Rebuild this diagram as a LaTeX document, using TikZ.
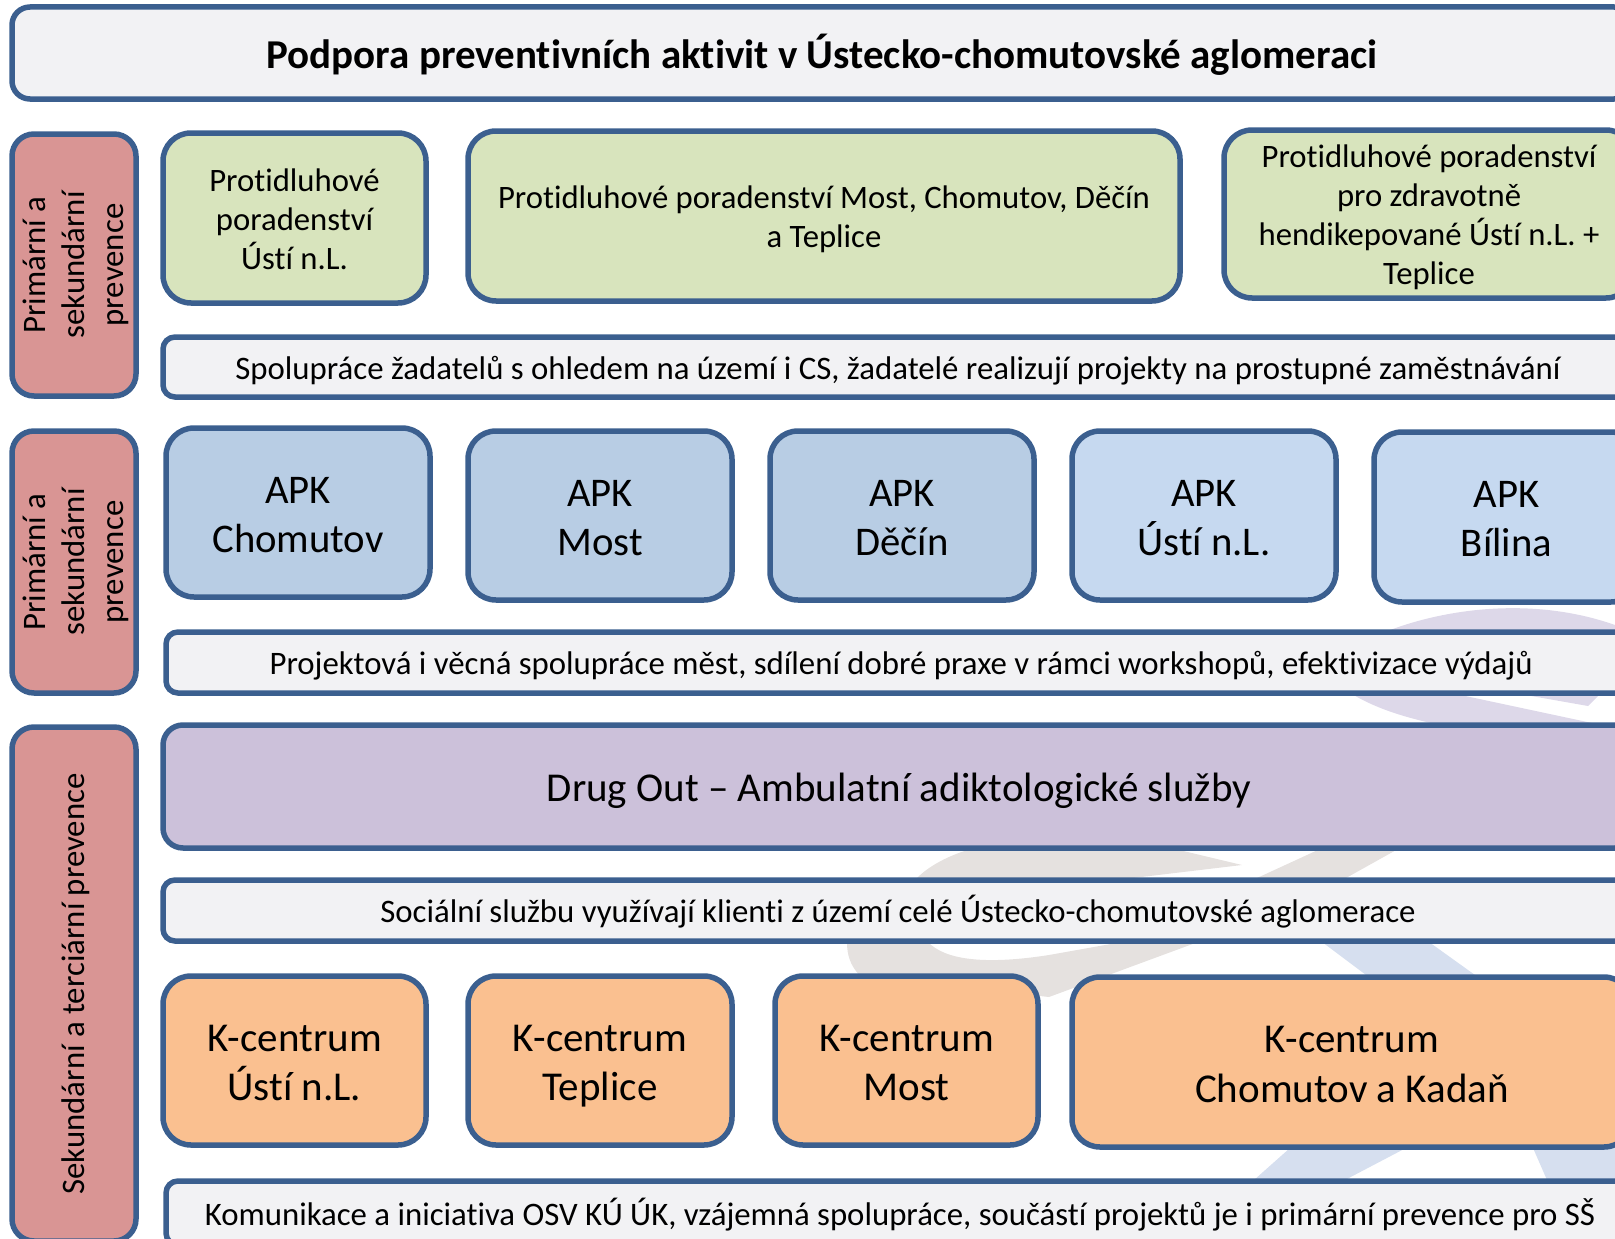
\documentclass[tikz,border=0pt]{standalone}
\usepackage{fontspec}
\setmainfont{Carlito}[Ligatures=CommonOff]
\definecolor{edge}{HTML}{3B5F8F}
\definecolor{greyfill}{HTML}{F2F2F4}
\definecolor{greenfill}{HTML}{D8E4BD}
\definecolor{pinkfill}{HTML}{D99594}
\definecolor{bluea}{HTML}{B8CDE4}
\definecolor{blueb}{HTML}{C6D9F0}
\definecolor{purplefill}{HTML}{CCC1DA}
\definecolor{orangefill}{HTML}{FAC090}
\definecolor{wmpurple}{HTML}{DDD8E9}
\definecolor{wmgrey}{HTML}{E5E1DF}
\definecolor{wmblue}{HTML}{D6DFEF}
\newcommand\tdownval{0}
\newcommand\boxtext[1]{\raisebox{-\tdownval pt}[0pt][0pt]{\begin{tabular}{@{}c@{}}#1\end{tabular}}}
\tikzset{
  tdown/.code={\def\tdownval{#1}},
  boxbase/.style={draw=edge,line width=5.5pt,inner sep=0pt,outer sep=0pt,text=black},
  titlebox/.style={boxbase,tdown=12,fill=greyfill,rounded corners=18pt,font=\fontsize{41}{49}\selectfont\bfseries},
  barbox/.style={boxbase,tdown=10.6,fill=greyfill,rounded corners=12pt,font=\fontsize{32.8}{39}\selectfont},
  greenbox/.style={boxbase,tdown=10.6,fill=greenfill,rounded corners=28pt,font=\fontsize{32.7}{39}\selectfont},
  pinkbox/.style={boxbase,tdown=8.5,fill=pinkfill,rounded corners=22pt,font=\fontsize{32.8}{39}\selectfont},
  apka/.style={boxbase,tdown=11.8,fill=bluea,rounded corners=28pt,font=\fontsize{40.7}{49}\selectfont},
  apkb/.style={boxbase,tdown=11.8,fill=blueb,rounded corners=28pt,font=\fontsize{40.7}{49}\selectfont},
  drugbox/.style={boxbase,tdown=12,fill=purplefill,rounded corners=20pt,font=\fontsize{41}{48}\selectfont},
  orangebox/.style={boxbase,tdown=11.8,fill=orangefill,rounded corners=28pt,font=\fontsize{41}{49.5}\selectfont},
}
\newcommand\bx[7]{%
  \pgfmathsetmacro\cxx{(#2+#4)/2}\pgfmathsetmacro\cyy{(#3+#5)/2}%
  \node[#6,minimum width={(#4-#2)*1pt},minimum height={(#5-#3)*1pt}] (#1) at (\cxx,\cyy) {\boxtext{#7}};}
\newcommand\bxr[7]{%
  \pgfmathsetmacro\cxx{(#2+#4)/2}\pgfmathsetmacro\cyy{(#3+#5)/2}%
  \node[#6,rotate=90,minimum width={(#5-#3)*1pt},minimum height={(#4-#2)*1pt}] (#1) at (\cxx,\cyy) {\boxtext{#7}};}
\begin{document}
\begin{tikzpicture}[x=1pt,y=-1pt]
\useasboundingbox (0,0) rectangle (1615,1239);
% watermark
\fill[wmpurple] (1385,632) .. controls (1440,610) and (1530,595) .. (1615,625) -- (1615,632) -- cycle;
\fill[wmpurple] (1352,694) .. controls (1375,708) and (1405,718) .. (1445,726) -- (1606,726) -- (1456,694) -- cycle;
\fill[wmpurple] (1520,694) -- (1600,694) -- (1588,706) -- cycle;
\fill[wmgrey] (917,878) .. controls (930,865) and (950,855) .. (971,849) -- (1175,849) -- (1242,865) -- (1133,878) -- cycle;
\fill[wmgrey] (1320,849) -- (1398,849) -- (1346,878) -- (1257,878) -- cycle;
\fill[wmgrey] (847,942) -- (928,942) .. controls (945,960) and (985,965) .. (1049,955) -- (1122,942) -- (1198,942) -- (1049,997) -- (860,976) .. controls (850,965) and (847,955) .. (847,942) -- cycle;
\fill[wmblue] (1322,942) -- (1429,942) -- (1475,975) -- (1366,975) -- cycle;
\fill[wmblue] (1290,1148) -- (1406,1148) -- (1345,1180) -- (1254,1180) -- cycle;
\fill[wmblue] (1533,1148) -- (1615,1148) -- (1615,1180) -- (1547,1180) -- cycle;
% header
\bx{title}{12}{7}{1632}{99}{titlebox}{Podpora preventivních aktivit v Ústecko-chomutovské aglomeraci}
% first block
\bxr{sideA}{12}{134}{136}{396}{pinkbox}{Primární a\\sekundární\\prevence}
\bx{greenA}{163}{133}{426}{303}{greenbox}{Protidluhové\\poradenství\\Ústí n.L.}
\bx{greenB}{468}{131}{1180}{301}{greenbox}{Protidluhové poradenství Most, Chomutov, Děčín\\a Teplice}
\bx{greenC}{1224}{130}{1634}{298}{greenbox}{Protidluhové poradenství\\pro zdravotně\\hendikepované Ústí n.L. +\\Teplice}
\bx{barA}{163}{337}{1633}{397}{barbox}{Spolupráce žadatelů s ohledem na území i CS, žadatelé realizují projekty na prostupné zaměstnávání}
% second block
\bxr{sideB}{12}{431}{136}{693}{pinkbox}{Primární a\\sekundární\\prevence}
\bx{apkA}{166}{428}{430}{597}{apka}{APK\\Chomutov}
\bx{apkB}{468}{431}{732}{600}{apka}{APK\\Most}
\bx{apkC}{770}{431}{1034}{600}{apka}{APK\\Děčín}
\bx{apkD}{1072}{431}{1336}{600}{apkb}{APK\\Ústí n.L.}
\bx{apkE}{1374}{432}{1639}{602}{apkb}{APK\\Bílina}
\bx{barB}{166}{632}{1636}{693}{barbox}{Projektová i věcná spolupráce měst, sdílení dobré praxe v rámci workshopů, efektivizace výdajů}
% third block
\bxr{sideC}{12}{727}{136}{1241}{pinkbox}{Sekundární a terciární prevence}
\bx{drug}{163}{725}{1635}{848}{drugbox}{Drug Out – Ambulatní adiktologické služby}
\bx{barC}{163}{880}{1633}{941}{barbox}{Sociální službu využívají klienti z území celé Ústecko-chomutovské aglomerace}
\bx{kA}{163}{976}{426}{1145}{orangebox}{K-centrum\\Ústí n.L.}
\bx{kB}{468}{976}{732}{1145}{orangebox}{K-centrum\\Teplice}
\bx{kC}{775}{976}{1038}{1145}{orangebox}{K-centrum\\Most}
\bx{kD}{1072}{977}{1632}{1147}{orangebox}{K-centrum\\Chomutov a Kadaň}
\bx{barD}{166}{1181}{1634}{1245}{barbox}{Komunikace a iniciativa OSV KÚ ÚK, vzájemná spolupráce, součástí projektů je i primární prevence pro SŠ}
\end{tikzpicture}
\end{document}
